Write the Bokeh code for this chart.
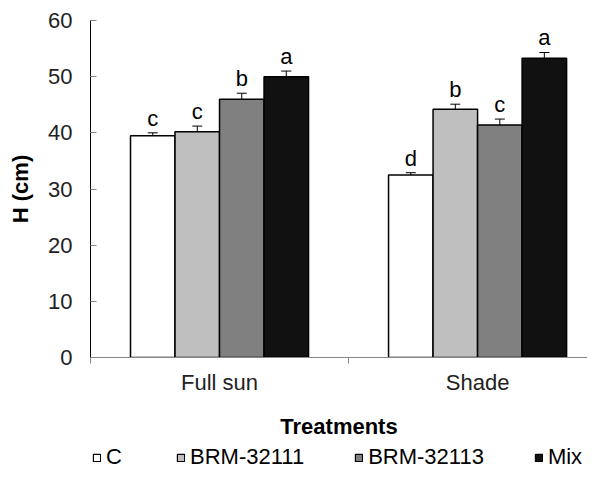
from bokeh.plotting import figure
from bokeh.layouts import column
from bokeh.models import (ColumnDataSource, Range1d, FixedTicker, Whisker, TeeHead,
                          Legend, LegendItem)
from bokeh.core.properties import value
from bokeh.embed import file_html
from bokeh.resources import INLINE

# ---- data ----
groups = ["Full sun", "Shade"]
series = ["C", "BRM-32111", "BRM-32113", "Mix"]
mean_C = [39.5, 32.5]
mean_BRM_32111 = [40.2, 44.2]
mean_BRM_32113 = [46.0, 41.4]
mean_Mix = [50.0, 53.3]
err_C = [0.5, 0.4]
err_BRM_32111 = [1.0, 0.9]
err_BRM_32113 = [1.05, 1.05]
err_Mix = [1.0, 1.0]
let_C = ["c", "d"]
let_BRM_32111 = ["c", "b"]
let_BRM_32113 = ["b", "c"]
let_Mix = ["a", "a"]
y_ticks = [0, 10, 20, 30, 40, 50, 60]

means = [mean_C, mean_BRM_32111, mean_BRM_32113, mean_Mix]
errs = [err_C, err_BRM_32111, err_BRM_32113, err_Mix]
letters = [let_C, let_BRM_32111, let_BRM_32113, let_Mix]
colors = ["#ffffff", "#bfbfbf", "#808080", "#111111"]

FONT = "Liberation Sans"
FS = "22px"
BAR_W = 0.1725
LETTER_GAP = 2.6  # data units above the error bar

p = figure(width=587, height=441, output_backend="svg", toolbar_location=None,
           x_range=Range1d(0, 1.926), y_range=Range1d(0, 60),
           min_border_left=90, min_border_right=0, min_border_top=20,
           min_border_bottom=84)
p.outline_line_color = None
p.grid.visible = False
p.background_fill_color = "white"

for j, name in enumerate(series):
    xs = [i + 0.5 + (j - 1.5) * BAR_W for i in range(len(groups))]
    upper = [m + e for m, e in zip(means[j], errs[j])]
    src = ColumnDataSource(dict(
        x=xs, top=means[j], upper=upper,
        lower=[m - e for m, e in zip(means[j], errs[j])],
        ly=[u + LETTER_GAP for u in upper],
        letter=letters[j]))
    p.vbar(x="x", top="top", width=BAR_W, bottom=0, source=src,
           fill_color=colors[j], line_color="#000000", line_width=1.5)
    w = Whisker(base="x", upper="upper", lower="lower", source=src,
                line_color="#000000", line_width=1,
                upper_head=TeeHead(size=10, line_color="#000000", line_width=1),
                lower_head=TeeHead(size=10, line_color="#000000", line_width=1))
    p.add_layout(w)
    p.text(x="x", y="ly", text="letter", source=src, text_align="center",
           text_baseline="alphabetic", text_font=value(FONT),
           text_font_size=FS, text_color="#000000")

# ---- axes ----
p.xaxis.ticker = FixedTicker(ticks=[0.5, 1.5], minor_ticks=[0, 1, 2])
p.xaxis.major_label_overrides = {0.5: groups[0], 1.5: groups[1]}
p.xaxis.major_tick_in = 0
p.xaxis.major_tick_out = 0
p.xaxis.minor_tick_in = 0
p.xaxis.minor_tick_out = 6
p.xaxis.minor_tick_line_color = "#868686"
p.xaxis.axis_line_color = "#868686"
p.xaxis.axis_line_width = 1
p.xaxis.major_label_standoff = 6
p.xaxis.major_label_text_font = FONT
p.xaxis.major_label_text_font_size = FS
p.xaxis.major_label_text_color = "#222222"
p.xaxis.axis_label = "Treatments"
p.xaxis.axis_label_text_font = FONT
p.xaxis.axis_label_text_font_size = FS
p.xaxis.axis_label_text_font_style = "bold"
p.xaxis.axis_label_text_color = "#000000"
p.xaxis.axis_label_standoff = 16

p.yaxis.ticker = FixedTicker(ticks=y_ticks, minor_ticks=[])
p.yaxis.major_tick_in = 6
p.yaxis.major_tick_out = 0
p.yaxis.major_tick_line_color = "#868686"
p.yaxis.axis_line_color = "#000000"
p.yaxis.axis_line_width = 1
p.yaxis.major_label_standoff = 18
p.yaxis.major_label_text_font = FONT
p.yaxis.major_label_text_font_size = FS
p.yaxis.major_label_text_color = "#222222"
p.yaxis.axis_label = "H (cm)"
p.yaxis.axis_label_text_font = FONT
p.yaxis.axis_label_text_font_size = FS
p.yaxis.axis_label_text_font_style = "bold"
p.yaxis.axis_label_text_color = "#000000"
p.yaxis.axis_label_standoff = 12

# ---- legend strip (separate figure so the key is not clipped) ----
lg = figure(width=587, height=30, output_backend="svg", toolbar_location=None,
            x_range=Range1d(0, 1), y_range=Range1d(0, 1),
            x_axis_location=None, y_axis_location=None,
            min_border_left=0, min_border_right=0, min_border_top=0,
            min_border_bottom=0)
lg.outline_line_color = None
lg.grid.visible = False
keys = []
for j, name in enumerate(series):
    # key swatch only: hidden renderer whose sample lies outside the strip
    kr = lg.vbar(x=[-5], top=[-5], bottom=-6, width=0.1, fill_color=colors[j],
                 line_color="#000000", line_width=1.2)
    kr.visible = False
    keys.append(LegendItem(label=name, renderers=[kr]))
legend = Legend(items=keys, orientation="horizontal", location=(2, 1),
                glyph_width=9, glyph_height=9, label_standoff=5, spacing=50,
                padding=0, margin=0, border_line_color=None,
                background_fill_alpha=0, label_text_font=FONT,
                label_text_font_size=FS, label_text_color="#000000",
                click_policy="none")
lg.add_layout(legend, "center")

layout = column(p, lg, spacing=0)
open("out.html", "w").write(file_html(layout, INLINE))
